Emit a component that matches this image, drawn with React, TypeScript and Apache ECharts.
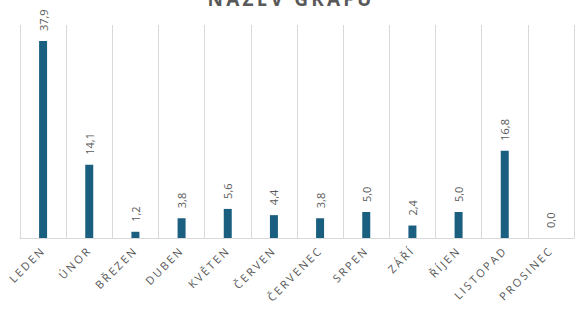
import React, { useEffect, useRef } from "react";
import * as echarts from "echarts";

const months: string[] = ["LEDEN", "ÚNOR", "BŘEZEN", "DUBEN", "KVĚTEN", "ČERVEN", "ČERVENEC", "SRPEN", "ZÁŘÍ", "ŘÍJEN", "LISTOPAD", "PROSINEC"];
const values: number[] = [37.9, 14.1, 1.2, 3.8, 5.6, 4.4, 3.8, 5.0, 2.4, 5.0, 16.8, 0.0];
const chartTitle = "NÁZEV GRAFU";

export default function App() {
  const ref = useRef<HTMLDivElement>(null);
  useEffect(() => {
    document.body.style.margin = "0";
    const chart = echarts.init(ref.current!, undefined, { renderer: "svg" });
    const applySpacing = () => {
      const texts = ref.current?.querySelectorAll("text") || [];
      texts.forEach((t: any) => {
        const s = (t.textContent || "").trim();
        if (months.includes(s)) t.style.letterSpacing = "2.3px";
        else if (s === chartTitle) t.style.letterSpacing = "3.2px";
      });
    };
    chart.on("finished", applySpacing);
    chart.setOption({
      animation: false,
      backgroundColor: "#ffffff",
      title: {
        text: chartTitle,
        left: "center",
        top: -16,
        textStyle: { fontFamily: "Open Sans", fontSize: 19, fontWeight: "bold", color: "#595959" },
      },
      grid: { left: 20, right: 8, top: 25, bottom: 79 },
      xAxis: {
        type: "category",
        data: months,
        boundaryGap: true,
        axisLine: { show: true, lineStyle: { color: "#d9d9d9" } },
        axisTick: { show: false },
        splitLine: { show: true, lineStyle: { color: "#d9d9d9" } },
        axisLabel: {
          rotate: 45,
          interval: 0,
          margin: 10,
          color: "#595959",
          fontFamily: "Open Sans",
          fontSize: 11,
        },
      },
      yAxis: {
        type: "value",
        min: 0,
        max: 41,
        show: false,
        splitLine: { show: false },
      },
      series: [
        {
          type: "bar",
          data: values,
          barWidth: 8,
          itemStyle: { color: "#1a5e80" },
          label: {
            show: true,
            position: "top",
            rotate: 90,
            align: "left",
            verticalAlign: "middle",
            distance: 10,
            color: "#595959",
            fontFamily: "Open Sans",
            fontSize: 11,
            formatter: (p: any) => Number(p.value).toFixed(1).replace(".", ","),
          },
        },
      ],
    });
    applySpacing();
    return () => chart.dispose();
  }, []);
  return <div ref={ref} style={{ width: 582, height: 317 }} />;
}
